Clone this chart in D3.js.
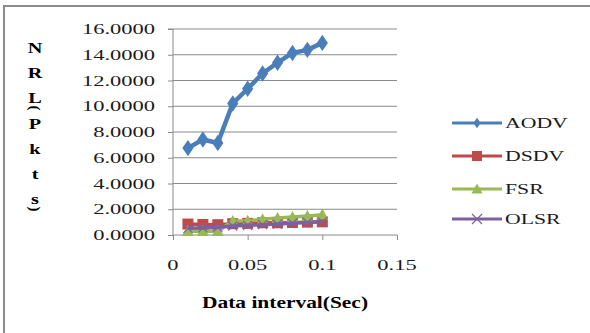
<!DOCTYPE html>
<html>
<head>
<meta charset="utf-8">
<script src="https://cdn.jsdelivr.net/npm/d3@7"></script>
<style>
  body { margin: 0; background: #fff; }
</style>
</head>
<body>
<div id="chart"></div>
<script>
const intervals = [0.01, 0.02, 0.03, 0.04, 0.05, 0.06, 0.07, 0.08, 0.09, 0.1];
const aodv = [6.75, 7.42, 7.15, 10.22, 11.36, 12.55, 13.38, 14.14, 14.38, 14.92];
const dsdv = [0.85, 0.82, 0.8, 0.88, 0.9, 0.95, 0.95, 0.97, 1.0, 1.02];
const fsr = [0.3, 0.3, 0.3, 1.08, 1.1, 1.22, 1.32, 1.4, 1.48, 1.58];
const olsr = [0.52, 0.55, 0.6, 0.7, 0.75, 0.8, 0.85, 0.92, 0.97, 1.02];
const seriesNames = ['AODV', 'DSDV', 'FSR', 'OLSR'];
const yTicks = [0, 2, 4, 6, 8, 10, 12, 14, 16];
const xTicks = [0, 0.05, 0.1, 0.15];
const yLabelChars = ['N', 'R', 'L', '(', 'P', 'k', 't', 's', ')'];

const width = 590, height = 333;
const stretch = 1.5;
const serif = '"Liberation Serif", "Times New Roman", serif';

const svg = d3.select('#chart').append('svg')
    .attr('width', width)
    .attr('height', height)
    .attr('font-family', serif);

// chart border (runs off the right and bottom)
svg.append('rect')
    .attr('x', 4).attr('y', 6)
    .attr('width', 620).attr('height', 360)
    .attr('fill', 'none')
    .attr('stroke', '#8c8c8c')
    .attr('stroke-width', 2);

const x = d3.scaleLinear().domain([0, 0.15]).range([173, 397]);
const y = d3.scaleLinear().domain([0, 16]).range([235, 29]);

// gridlines
svg.append('g')
    .selectAll('line')
    .data(yTicks.filter(d => d > 0))
    .join('line')
    .attr('x1', x(0)).attr('x2', x(0.15))
    .attr('y1', d => y(d)).attr('y2', d => y(d))
    .attr('stroke', '#8a8a8a')
    .attr('stroke-width', 1);

// y axis
const yAxis = svg.append('g')
    .attr('transform', `translate(${x(0)},0)`)
    .call(d3.axisLeft(y).tickValues(yTicks).tickSize(5).tickFormat(''));
yAxis.selectAll('path, line').attr('stroke', '#8a8a8a');
yAxis.select('.domain').attr('d', `M-5,${y(16)}H0V${y(0)}`);

// x axis
const xAxis = svg.append('g')
    .attr('transform', `translate(0,${y(0)})`)
    .call(d3.axisBottom(x).tickValues(xTicks).tickSize(5).tickFormat(''));
xAxis.selectAll('path, line').attr('stroke', '#8a8a8a');
xAxis.select('.domain').attr('d', `M${x(0)},0H${x(0.15)}`);

// tick labels, stretched horizontally like the source
svg.append('g')
    .selectAll('text')
    .data(yTicks)
    .join('text')
    .attr('font-family', serif)
    .attr('transform', d => `translate(155,${y(d) + 5}) scale(${stretch},1)`)
    .attr('text-anchor', 'end')
    .attr('font-size', 15)
    .attr('fill', '#1a1a1a')
    .text(d => d.toFixed(4));

svg.append('g')
    .selectAll('text')
    .data(xTicks)
    .join('text')
    .attr('font-family', serif)
    .attr('transform', d => `translate(${x(d)},270) scale(${stretch},1)`)
    .attr('text-anchor', 'middle')
    .attr('font-size', 15)
    .attr('fill', '#1a1a1a')
    .text(d => d === 0 ? '0' : String(d));

// axis titles
svg.append('text')
    .attr('font-family', serif)
    .attr('transform', `translate(285,308) scale(1.34,1)`)
    .attr('text-anchor', 'middle')
    .attr('font-size', 16)
    .attr('font-weight', 'bold')
    .text('Data interval(Sec)');

let cy = 48;
const yLabelPos = yLabelChars.map((c, i) => {
    const isParen = c === '(' || c === ')';
    if (i > 0) cy += isParen ? 10 : (yLabelChars[i - 1] === '(' ? 16 : 25);
    return { c, y: cy, isParen };
});
svg.append('g')
    .selectAll('text')
    .data(yLabelPos)
    .join('text')
    .attr('font-family', serif)
    .attr('transform', d => d.isParen
        ? `translate(35,${d.y}) rotate(90)`
        : `translate(35,${d.y + 5}) scale(1.35,1)`)
    .attr('text-anchor', 'middle')
    .attr('dominant-baseline', d => d.isParen ? 'central' : null)
    .attr('font-size', 15)
    .attr('font-weight', 'bold')
    .text(d => d.c);

// series
const colors = { AODV: '#4a7ebb', DSDV: '#be4b48', FSR: '#98b954', OLSR: '#7d60a0' };
const values = { AODV: aodv, DSDV: dsdv, FSR: fsr, OLSR: olsr };

function marker(g, name, size) {
    const c = colors[name];
    if (name === 'AODV') {
        g.append('path').attr('d', d3.symbol(d3.symbolDiamond, size * size * 0.55)())
            .attr('fill', c).attr('transform', 'scale(1,0.85)');
    } else if (name === 'DSDV') {
        g.append('rect').attr('x', -size / 2).attr('y', -size / 2)
            .attr('width', size).attr('height', size).attr('fill', c);
    } else if (name === 'FSR') {
        g.append('path').attr('d', `M0,${-size * 0.55}L${size * 0.55},${size * 0.45}L${-size * 0.55},${size * 0.45}Z`)
            .attr('fill', c);
    } else {
        const h = size / 2;
        g.append('path').attr('d', `M${-h},${-h}L${h},${h}M${-h},${h}L${h},${-h}`)
            .attr('stroke', c).attr('stroke-width', 1.2).attr('fill', 'none');
    }
}

const line = d3.line().x(d => x(d[0])).y(d => y(d[1]));
const markerSize = { AODV: 14, DSDV: 11, FSR: 11, OLSR: 9 };

seriesNames.forEach(name => {
    const pts = intervals.map((t, i) => [t, values[name][i]]);
    const g = svg.append('g');
    g.append('path')
        .datum(pts)
        .attr('d', line)
        .attr('fill', 'none')
        .attr('stroke', colors[name])
        .attr('stroke-width', name === 'AODV' ? 4.5 : 3.5)
        .attr('stroke-linejoin', 'round');
    g.selectAll('g.m')
        .data(pts)
        .join('g')
        .attr('class', 'm')
        .attr('transform', d => `translate(${x(d[0])},${y(d[1])})`)
        .each(function () { marker(d3.select(this), name, markerSize[name]); });
});

// legend
const legendY = [123, 156, 189, 219];
const legend = svg.append('g')
    .selectAll('g')
    .data(seriesNames)
    .join('g')
    .attr('transform', (d, i) => `translate(452,${legendY[i]})`);
legend.append('line')
    .attr('x1', 0).attr('x2', 50)
    .attr('stroke', d => colors[d])
    .attr('stroke-width', 3);
legend.append('g')
    .attr('transform', 'translate(25,0)')
    .each(function (d) { marker(d3.select(this), d, d === 'AODV' ? 9 : 10); });
legend.append('text')
    .attr('font-family', serif)
    .attr('transform', `translate(53,5) scale(1.45,1)`)
    .attr('font-size', 15)
    .attr('fill', '#1a1a1a')
    .text(d => d);
</script>
</body>
</html>
